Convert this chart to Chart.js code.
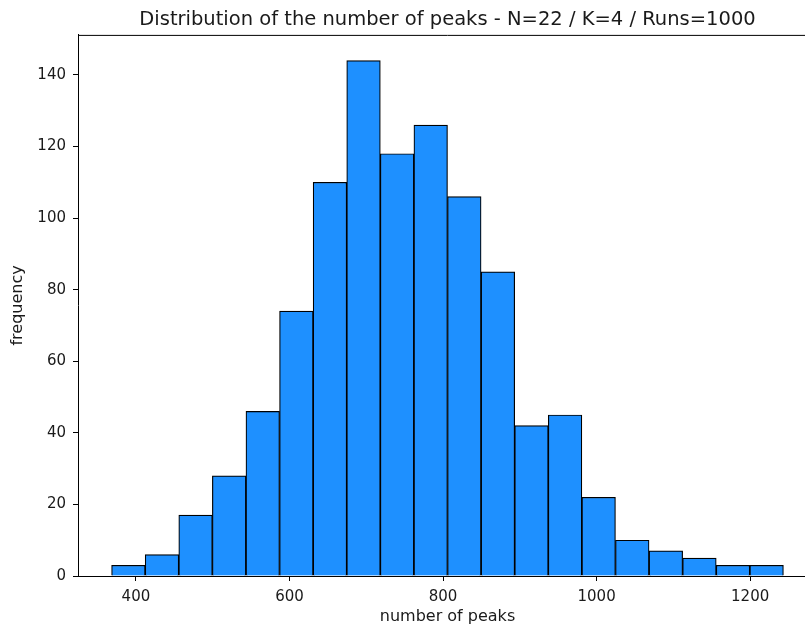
<!DOCTYPE html>
<html lang="en">
<head>
    <meta charset="UTF-8">
    <title>Distribution of the number of peaks</title>
    <script src="https://cdn.jsdelivr.net/npm/chart.js"></script>
    <style>
        html, body { margin: 0; padding: 0; overflow: hidden; background: #fff; }
        .chart { width: 817px; height: 627px; }
    </style>
</head>
<body>
    <div class="chart">
        <canvas id="histChart"></canvas>
    </div>

    <script>
        // bin centres (bin width 43.75) and counts
        const binCenters = [390.18, 433.93, 477.68, 521.43, 565.18, 608.93, 652.68, 696.43, 740.18, 783.93,
                            827.68, 871.43, 915.18, 958.93, 1002.68, 1046.43, 1090.18, 1133.93, 1177.68, 1221.43];
        const counts = [3, 6, 17, 28, 46, 74, 110, 144, 118, 126, 106, 85, 42, 45, 22, 10, 7, 5, 3, 3];
        const xTicks = [400, 600, 800, 1000, 1200];
        const yTicks = [0, 20, 40, 60, 80, 100, 120, 140];

        const FONT = 'DejaVu Sans';
        const tickFont = { family: FONT, size: 15 };

        // top spine like matplotlib's axes box
        const topSpine = {
            id: 'topSpine',
            afterDraw(chart) {
                const { ctx, chartArea } = chart;
                ctx.save();
                ctx.strokeStyle = '#000';
                ctx.lineWidth = 1;
                ctx.beginPath();
                ctx.moveTo(chartArea.left, chartArea.top + 0.5);
                ctx.lineTo(chartArea.right, chartArea.top + 0.5);
                ctx.stroke();
                ctx.restore();
            }
        };

        new Chart(document.getElementById('histChart'), {
            type: 'bar',
            data: {
                datasets: [{
                    label: 'frequency',
                    data: binCenters.map((x, i) => ({ x: x, y: counts[i] })),
                    backgroundColor: '#1E90FF',
                    borderColor: '#000',
                    borderWidth: 1.2,
                    barPercentage: 1,
                    categoryPercentage: 1
                }]
            },
            options: {
                responsive: true,
                maintainAspectRatio: false,
                animation: false,
                layout: { padding: 0 },
                plugins: {
                    legend: { display: false },
                    tooltip: { enabled: false },
                    title: {
                        display: true,
                        fullSize: false,
                        text: 'Distribution of the number of peaks - N=22 / K=4 / Runs=1000',
                        color: '#1a1a1a',
                        font: { family: FONT, size: 19.5, weight: 'normal' },
                        padding: { top: 8, bottom: 3.5 }
                    }
                },
                scales: {
                    x: {
                        type: 'linear',
                        offset: false,
                        min: 324.55,
                        max: 1287.05,
                        afterBuildTicks: s => { s.ticks = xTicks.map(v => ({ value: v })); },
                        afterFit: s => { s.height = 51; },
                        grid: { drawOnChartArea: false, offset: false, tickLength: 5, color: '#000' },
                        border: { display: true, color: '#000', width: 1 },
                        ticks: { font: tickFont, color: '#1a1a1a', padding: 7, maxRotation: 0,
                                 callback: v => String(v) },
                        title: {
                            display: true,
                            text: 'number of peaks',
                            color: '#1a1a1a',
                            font: { family: FONT, size: 16 },
                            padding: { top: 0, bottom: 0.5 }
                        }
                    },
                    y: {
                        min: 0,
                        max: 151.2,
                        afterBuildTicks: s => { s.ticks = yTicks.map(v => ({ value: v })); },
                        afterFit: s => { s.width = 78; },
                        grid: { drawOnChartArea: false, tickLength: 5, color: '#000' },
                        border: { display: true, color: '#000', width: 1 },
                        ticks: { font: tickFont, color: '#1a1a1a', padding: 7 },
                        title: {
                            display: true,
                            text: 'frequency',
                            color: '#1a1a1a',
                            font: { family: FONT, size: 16 },
                            padding: { top: 8.5, bottom: 0 }
                        }
                    }
                }
            },
            plugins: [topSpine]
        });
    </script>
</body>
</html>
